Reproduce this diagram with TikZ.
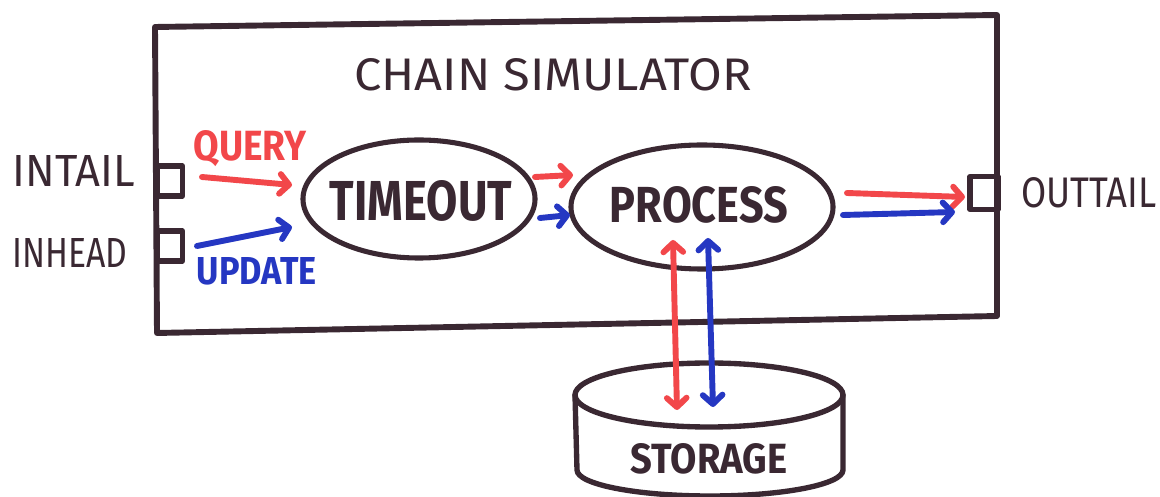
\documentclass[tikz,border=0pt]{standalone}
\usepackage{fontspec}
\setmainfont{Fira Sans}
\usepackage{graphicx}
\usetikzlibrary{arrows.meta,shapes.geometric}
\definecolor{ink}{HTML}{3A2832}
\definecolor{pred}{HTML}{F2474A}
\definecolor{pblue}{HTML}{2537C2}
\newlength\pxu
\setlength\pxu{0.025cm}
% scale a text to a given width and cap height (in drawing units)
\newcommand\fitto[3]{\resizebox{#1\pxu}{#2\pxu}{#3}}
\begin{document}
\begin{tikzpicture}[x=0.025cm, y=-0.025cm, line cap=round, line join=round,
  frame/.style={draw=ink, line width=4.2pt},
  port/.style={draw=ink, line width=3.6pt, minimum width=0.62cm, minimum height=0.75cm, inner sep=0pt},
  lbl/.style={inner sep=0pt, text=ink},
  blob/.style={ellipse, draw=ink, line width=3.6pt, inner sep=0pt},
  flow/.style={line width=4.2pt, -{Straight Barb[length=6.5pt, width=14pt, round]}},
  both/.style={line width=4.2pt, {Straight Barb[length=6.5pt, width=14pt, round]}-{Straight Barb[length=6.5pt, width=14pt, round]}},
  red flow/.style={flow, draw=pred},
  blue flow/.style={flow, draw=pblue}]
\useasboundingbox (0,0) rectangle (1160,497);
\fill[white] (0,0) rectangle (1160,497);

% simulator frame
\draw[frame] (155,27) -- (997,15) -- (997,316) -- (157,333) -- cycle;
\node[lbl] (title) at (553,75) {\fitto{397}{32}{CHAIN SIMULATOR}};

% ports
\node[port] (intail) at (170,181) {};
\node[port] (inhead) at (170,246) {};
\node[port, minimum width=0.7cm, minimum height=0.82cm] (outtail) at (984,193) {};
\node[lbl] (intaillbl) at (74,171) {\fitto{122}{31}{INTAIL}};
\node[lbl] (inheadlbl) at (70,253) {\fitto{115}{29}{INHEAD}};
\node[lbl] (outtaillbl) at (1089,193) {\fitto{135}{30}{OUTTAIL}};

% processing stages
\node[blob, minimum width=5.8cm, minimum height=2.95cm] (timeout) at (419,199) {};
\node[lbl] (timeoutlbl) at (421,201) {\fitto{182}{40}{\bfseries TIMEOUT}};
\node[blob, minimum width=6.55cm, minimum height=3.1cm] (process) at (702,207) {};
\node[lbl] (processlbl) at (699,205) {\fitto{178}{36}{\bfseries PROCESS}};

% storage drum
\draw[frame, line width=3.8pt] (575,395) -- (577,470)
  arc[start angle=180, end angle=0, x radius=133, y radius=26] -- (843,395);
\draw[frame, line width=3.8pt] (709,395) ellipse [x radius=134, y radius=32];
\node[lbl] (storage) at (709,459) {\fitto{157}{30}{\bfseries STORAGE}};

% message labels
\node[inner sep=0pt, text=pred] (query) at (250,149) {\fitto{113}{30}{\bfseries QUERY}};
\node[inner sep=0pt, text=pblue] (update) at (257,271) {\fitto{120}{27}{\bfseries UPDATE}};

% arrow end points
\coordinate (q0) at (202,177);  \coordinate (q1) at (292,185);
\coordinate (u0) at (197,246);  \coordinate (u1) at (292,227);
\coordinate (tr0) at (535,177); \coordinate (tr1) at (573,175);
\coordinate (tb0) at (540,218); \coordinate (tb1) at (570,215);
\coordinate (or0) at (847,193); \coordinate (or1) at (965,197);
\coordinate (ob0) at (843,215); \coordinate (ob1) at (955,212);
\coordinate (sr0) at (673,240); \coordinate (sr1) at (677,410);
\coordinate (sb0) at (708,238); \coordinate (sb1) at (713,407);

% message flows
\draw[red flow] (q0) -- (q1);
\draw[blue flow] (u0) -- (u1);
\draw[red flow] (tr0) -- (tr1);
\draw[blue flow] (tb0) -- (tb1);
\draw[red flow] (or0) -- (or1);
\draw[blue flow] (ob0) -- (ob1);
\draw[both, draw=pred] (sr0) -- (sr1);
\draw[both, draw=pblue] (sb0) -- (sb1);
\end{tikzpicture}
\end{document}
